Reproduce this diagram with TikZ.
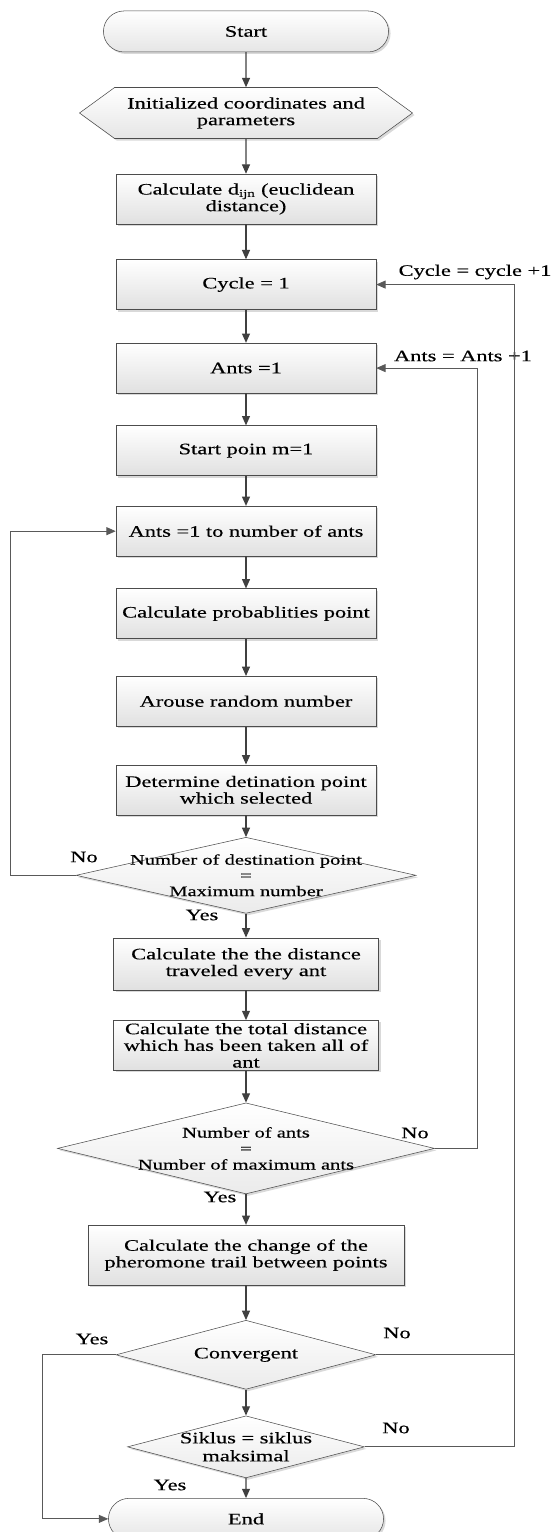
\documentclass[tikz,border=0pt]{standalone}
\usepackage{fontspec}
\setmainfont{Liberation Serif}[FakeStretch=1.4, FakeBold=0.3]
\usepackage{tikz}
\usetikzlibrary{positioning}
\usetikzlibrary{shapes.geometric}
\usetikzlibrary{shapes.misc}
\usetikzlibrary{shapes.symbols}
\usetikzlibrary{shadows}
\usetikzlibrary{arrows.meta}

\begin{document}
\begin{tikzpicture}[
>={Triangle[length=7pt,width=6pt]},
every node/.style={font=\fontsize{12}{12.5}\selectfont},
boxshadow/.style={drop shadow={shadow xshift=1.5pt, shadow yshift=-1.5pt, fill=black!15, opacity=1}},
terminalnode/.style={rounded rectangle, draw=black!70, top color=white, bottom color=black!10, boxshadow, minimum width=220.5pt, minimum height=30.75pt},
inputnode/.style={signal, signal to=west and east, signal pointer angle=72, draw=black!70, top color=white, bottom color=black!10, boxshadow, minimum width=249.75pt, minimum height=38.25pt, inner sep=1pt, align=center},
processnode/.style={rectangle, draw=black!70, top color=white, bottom color=black!12, boxshadow, minimum width=195pt, minimum height=37.5pt, inner xsep=2pt, inner ysep=0.5pt, align=center},
rombnode/.style={diamond, draw=black!70, top color=white, bottom color=black!8, boxshadow, inner sep=0pt},
rombtext/.style={align=center, font=\fontsize{11}{11.8}\selectfont},
labelnode/.style={inner sep=1pt},
flowline/.style={draw=black!75, line width=0.8pt},
loopline/.style={draw=black!65, line width=0.6pt},
]

% Keep the page at the size of the reference
\useasboundingbox (0,0) rectangle (414.75pt,-1149pt);

% Main column
\node[terminalnode]     (start)       at (184.5pt,-23.6pt)            {Start};
\node[inputnode]        (init)        [below=26.25pt of start]        {Initialized coordinates and\\parameters};
\node[processnode]      (distance)    [below=26.25pt of init]         {Calculate d\textsubscript{ijn} (euclidean\\distance)};
\node[processnode]      (cycle)       [below=26.25pt of distance]     {Cycle = 1};
\node[processnode]      (ants)        [below=24.75pt of cycle]        {Ants =1};
\node[processnode]      (startpoint)  [below=24pt of ants]            {Start poin m=1};
\node[processnode]      (antsloop)    [below=22.5pt of startpoint]    {Ants =1 to number of ants};
\node[processnode]      (probability) [below=24pt of antsloop]        {Calculate probablities point};
\node[processnode]      (random)      [below=27.75pt of probability]  {Arouse random number};
\node[processnode]      (destination) [below=28.5pt of random]        {Determine detination point\\which selected};

% Decisions and the rest
\node[rombnode, minimum width=255pt, minimum height=57pt,
  label={[rombtext]center:Number of destination point\\=\\Maximum number}]
                        (checkpoint)  [below=16.5pt of destination]   {};
\node[processnode, minimum width=198.75pt, minimum height=39pt]
                        (antdistance) [below=18pt of checkpoint]      {Calculate the the distance\\traveled every ant};
\node[processnode, minimum width=198.75pt]
                        (totaldistance) [below=22.5pt of antdistance] {Calculate the total distance\\which has been taken all of\\ant};
\node[rombnode, minimum width=282.75pt, minimum height=68.25pt,
  label={[rombtext, font=\fontsize{11}{12}\selectfont]center:Number of ants\\=\\Number of maximum ants}]
                        (checkants)   [below=24pt of totaldistance]   {};
\node[processnode, minimum width=237pt, minimum height=45pt]
                        (pheromone)   [below=23pt of checkants]       {Calculate the change of the\\pheromone trail between points};
\node[rombnode, minimum width=195pt, minimum height=51.75pt,
  label={[labelnode]center:Convergent}]
                        (convergent)  [below=26pt of pheromone]       {};
\node[rombnode, minimum width=177.75pt, minimum height=46.5pt,
  label={[rombtext, font=\fontsize{12}{13.5}\selectfont]center:Siklus = siklus\\maksimal}]
                        (checkcycle)  [below=19.5pt of convergent]    {};
\node[terminalnode, minimum width=213pt]
                        (end)         [below=15pt of checkcycle]      {End};

% Where the loop lines run
\coordinate (noloopx)    at (7.5pt,0);
\coordinate (yesloopx)   at (31.5pt,0);
\coordinate (antsloopx)  at (357.75pt,0);
\coordinate (cycleloopx) at (385.5pt,0);

% Labels on the lines
\node[labelnode] (cyclelabel) at (356.25pt,-204pt)    {Cycle = cycle +1};
\node[labelnode] (antslabel)  at (347.25pt,-267pt)    {Ants = Ants +1};
\node[labelnode] (pointno)    at (63pt,-642.75pt)     {No};
\node[labelnode] (pointyes)   at (151.5pt,-686.25pt)  {Yes};
\node[labelnode] (antsno)     at (311.25pt,-849.75pt) {No};
\node[labelnode] (antsyes)    at (165pt,-897.75pt)    {Yes};
\node[labelnode] (convyes)    at (69pt,-1004.25pt)    {Yes};
\node[labelnode] (convno)     at (297.75pt,-999.75pt) {No};
\node[labelnode] (cycleno)    at (297pt,-1071pt)      {No};
\node[labelnode] (cycleyes)   at (127.5pt,-1113.75pt) {Yes};

\draw[flowline,->] (start) -- (init);
\draw[flowline,->] (init) -- (distance);
\draw[flowline,->] (distance) -- (cycle);
\draw[flowline,->] (cycle) -- (ants);
\draw[flowline,->] (ants) -- (startpoint);
\draw[flowline,->] (startpoint) -- (antsloop);
\draw[flowline,->] (antsloop) -- (probability);
\draw[flowline,->] (probability) -- (random);
\draw[flowline,->] (random) -- (destination);
\draw[flowline,->] (destination) -- (checkpoint);
\draw[flowline,->] (checkpoint) -- (antdistance);
\draw[flowline,->] (antdistance) -- (totaldistance);
\draw[flowline,->] (totaldistance) -- (checkants);
\draw[flowline,->] (checkants) -- (pheromone);
\draw[flowline,->] (pheromone) -- (convergent);
\draw[flowline,->] (convergent) -- (checkcycle);
\draw[flowline,->] (checkcycle) -- (end);

% Loop connectors
\draw[loopline,->] (checkpoint.west) -- (checkpoint.west -| noloopx) |- (antsloop.west);
\draw[loopline,->] (checkants.east) -- (checkants.east -| antsloopx) |- (ants.east);
\draw[loopline,->] (checkcycle.east) -- (checkcycle.east -| cycleloopx) |- (cycle.east);
\draw[loopline] (convergent.east) -- (convergent.east -| cycleloopx);
\draw[loopline,->] (convergent.west) -- (convergent.west -| yesloopx) |- (end.west);
\end{tikzpicture}
\end{document}
